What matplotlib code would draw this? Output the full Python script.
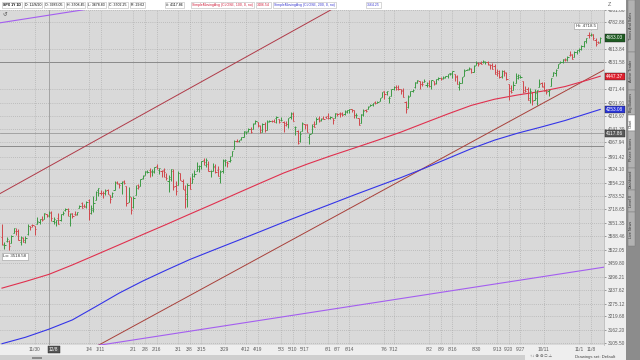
import matplotlib.pyplot as plt
from matplotlib.patches import Rectangle
from matplotlib.ticker import NullLocator, NullFormatter
import numpy as np
import pandas as pd

plt.rcParams['font.family'] = ['Liberation Sans', 'DejaVu Sans']

# SPX daily bars 11/9/20 .. 11/12/21
opens = [
    3583, 3543, 3563, 3563, 3552, 3600, 3611, 3612, 3560, 3579, 3567, 3595, 3635, 3639, 3634,
    3645, 3654, 3669, 3671, 3694, 3683, 3706, 3659, 3656, 3675, 3666, 3697, 3714, 3722, 3684, 3698, 3694, 3694, 3723, 3751, 3736, 3733,
    3764, 3698, 3713, 3764, 3815, 3803, 3802, 3802, 3814, 3788, 3782, 3817, 3857, 3845, 3852, 3863, 3836, 3755, 3778,
    3732, 3791, 3840, 3837, 3878, 3893, 3910, 3920, 3916, 3912, 3940, 3918, 3915, 3921, 3885, 3864, 3873, 3915, 3839,
    3842, 3903, 3864, 3818, 3793, 3844, 3851, 3891, 3915, 3925, 3943, 3974, 3949, 3954, 3913, 3917, 3938, 3920, 3880, 3913, 3970, 3963, 3968,
    3992, 4034, 4075, 4074, 4089, 4096, 4125, 4131, 4141, 4140, 4175, 4179, 4160, 4128, 4171, 4138, 4185, 4188, 4185, 4206, 4198,
    4192, 4180, 4177, 4170, 4210, 4229, 4152, 4130, 4074, 4130, 4170, 4169, 4098, 4122, 4168, 4170, 4205, 4191, 4202, 4210,
    4216, 4207, 4207, 4207, 4229, 4234, 4232, 4228, 4243, 4249, 4256, 4249, 4220, 4204, 4174, 4224, 4249, 4257, 4275, 4285, 4293, 4291,
    4301, 4326, 4357, 4351, 4321, 4330, 4373, 4382, 4381, 4369, 4368, 4297, 4266, 4331, 4361, 4381, 4409, 4416, 4403, 4412, 4395,
    4406, 4392, 4416, 4405, 4429, 4437, 4436, 4442, 4447, 4465, 4462, 4462, 4440, 4382, 4406, 4450, 4484, 4490, 4493, 4474, 4514, 4529,
    4528, 4535, 4532, 4536, 4518, 4514, 4506, 4474, 4479, 4447, 4477, 4469, 4403, 4375, 4367, 4406, 4438, 4442, 4420, 4363, 4370,
    4318, 4349, 4310, 4320, 4384, 4407, 4386, 4368, 4358, 4387, 4448, 4464, 4498, 4525, 4532, 4547, 4554, 4579, 4581, 4563, 4596,
    4610, 4614, 4631, 4663, 4700, 4702, 4707, 4670, 4660, 4656,
]
highs = [
    3646, 3557, 3582, 3569, 3593, 3628, 3624, 3619, 3585, 3582, 3589, 3643, 3636, 3644, 3634,
    3679, 3670, 3683, 3699, 3697, 3708, 3712, 3678, 3666, 3698, 3695, 3711, 3725, 3727, 3702, 3698, 3711, 3703, 3740, 3756, 3744, 3760,
    3770, 3738, 3783, 3811, 3826, 3818, 3811, 3820, 3823, 3789, 3805, 3860, 3862, 3853, 3860, 3870, 3837, 3831, 3778,
    3784, 3843, 3848, 3872, 3895, 3916, 3919, 3931, 3925, 3937, 3951, 3933, 3921, 3931, 3902, 3895, 3928, 3926, 3862,
    3914, 3906, 3875, 3843, 3851, 3882, 3904, 3918, 3961, 3944, 3970, 3982, 3984, 3969, 3919, 3956, 3950, 3943, 3919, 3979, 3981, 3969, 3994,
    4021, 4083, 4087, 4083, 4099, 4129, 4131, 4148, 4151, 4174, 4192, 4180, 4164, 4175, 4179, 4194, 4194, 4193, 4201, 4218, 4199,
    4210, 4187, 4187, 4202, 4238, 4237, 4162, 4135, 4131, 4184, 4172, 4170, 4116, 4172, 4189, 4209, 4214, 4203, 4213, 4218,
    4234, 4216, 4207, 4233, 4232, 4237, 4237, 4249, 4249, 4255, 4257, 4252, 4233, 4204, 4226, 4256, 4256, 4271, 4287, 4292, 4300, 4303,
    4321, 4355, 4359, 4362, 4331, 4372, 4387, 4393, 4394, 4369, 4376, 4300, 4337, 4359, 4369, 4415, 4423, 4416, 4416, 4430, 4412,
    4422, 4424, 4417, 4430, 4441, 4440, 4446, 4449, 4461, 4469, 4480, 4462, 4454, 4418, 4444, 4489, 4492, 4502, 4496, 4513, 4538, 4532,
    4538, 4545, 4541, 4537, 4521, 4529, 4521, 4492, 4486, 4486, 4486, 4472, 4403, 4394, 4417, 4466, 4463, 4457, 4420, 4387, 4383,
    4375, 4355, 4369, 4366, 4429, 4412, 4415, 4374, 4373, 4439, 4475, 4488, 4520, 4540, 4552, 4560, 4572, 4599, 4585, 4598, 4609,
    4621, 4636, 4664, 4684, 4718.5, 4714, 4708, 4685, 4664, 4689,
]
lows = [
    3543, 3524, 3557, 3518.58, 3552, 3600, 3594, 3567, 3544, 3556, 3553, 3592, 3617, 3630, 3594,
    3645, 3645, 3660, 3670, 3679, 3679, 3660, 3645, 3634, 3647, 3660, 3690, 3710, 3685, 3636, 3676, 3690, 3690, 3723, 3723, 3730, 3726,
    3663, 3696, 3706, 3764, 3783, 3790, 3777, 3792, 3793, 3749, 3780, 3817, 3845, 3826, 3797, 3847, 3733, 3755, 3694,
    3726, 3791, 3823, 3835, 3871, 3892, 3906, 3885, 3890, 3906, 3923, 3899, 3885, 3884, 3869, 3805, 3860, 3814, 3790,
    3842, 3867, 3819, 3723, 3730, 3819, 3851, 3885, 3915, 3907, 3924, 3949, 3935, 3914, 3885, 3917, 3902, 3886, 3853, 3906, 3940, 3936, 3965,
    3992, 4034, 4069, 4068, 4083, 4096, 4114, 4125, 4120, 4140, 4171, 4151, 4119, 4126, 4123, 4138, 4182, 4181, 4181, 4177, 4175,
    4188, 4128, 4160, 4147, 4201, 4188, 4111, 4057, 4068, 4130, 4143, 4128, 4062, 4122, 4152, 4170, 4179, 4187, 4197, 4203,
    4197, 4198, 4168, 4206, 4213, 4211, 4218, 4221, 4232, 4235, 4238, 4203, 4206, 4165, 4174, 4218, 4241, 4257, 4271, 4274, 4286, 4289,
    4301, 4326, 4315, 4336, 4290, 4330, 4366, 4368, 4365, 4341, 4323, 4233, 4259, 4329, 4351, 4378, 4406, 4372, 4387, 4412, 4386,
    4384, 4373, 4398, 4403, 4426, 4424, 4430, 4437, 4435, 4456, 4437, 4418, 4400, 4367, 4406, 4450, 4482, 4486, 4469, 4472, 4514, 4508,
    4522, 4527, 4522, 4518, 4493, 4493, 4458, 4447, 4435, 4439, 4448, 4427, 4305, 4347, 4367, 4406, 4430, 4437, 4347, 4352, 4306,
    4289, 4279, 4310, 4278, 4384, 4386, 4360, 4342, 4330, 4387, 4448, 4447, 4495, 4525, 4527, 4538, 4537, 4569, 4552, 4563, 4584,
    4595, 4604, 4624, 4651, 4682, 4694, 4670, 4630, 4648, 4648,
]
closes = [
    3550, 3546, 3573, 3537, 3585, 3627, 3610, 3568, 3582, 3558, 3578, 3635, 3630, 3638, 3622,
    3662, 3669, 3667, 3699, 3692, 3702, 3673, 3668, 3663, 3647, 3695, 3701, 3722, 3709, 3695, 3687, 3690, 3703, 3735, 3727, 3732, 3756,
    3701, 3727, 3748, 3804, 3825, 3800, 3801, 3810, 3796, 3768, 3799, 3852, 3853, 3841, 3855, 3850, 3751, 3787, 3714,
    3774, 3826, 3830, 3872, 3887, 3916, 3911, 3910, 3916, 3935, 3933, 3931, 3914, 3907, 3877, 3881, 3925, 3829, 3811,
    3902, 3870, 3820, 3768, 3842, 3821, 3875, 3899, 3939, 3943, 3969, 3963, 3974, 3915, 3913, 3941, 3911, 3889, 3910, 3975, 3971, 3959, 3973,
    4020, 4078, 4074, 4080, 4097, 4129, 4128, 4142, 4125, 4170, 4185, 4163, 4135, 4173, 4135, 4180, 4188, 4187, 4183, 4211, 4181,
    4193, 4165, 4168, 4202, 4233, 4188, 4152, 4063, 4113, 4174, 4163, 4128, 4116, 4159, 4156, 4197, 4188, 4196, 4201, 4204,
    4202, 4208, 4193, 4230, 4227, 4227, 4220, 4239, 4247, 4255, 4247, 4224, 4222, 4166, 4225, 4246, 4242, 4266, 4281, 4291, 4292, 4298,
    4320, 4352, 4344, 4358, 4321, 4370, 4385, 4369, 4374, 4360, 4327, 4258, 4323, 4359, 4367, 4412, 4422, 4401, 4401, 4419, 4395,
    4387, 4423, 4403, 4429, 4437, 4432, 4437, 4448, 4461, 4468, 4480, 4448, 4400, 4406, 4442, 4480, 4486, 4496, 4470, 4509, 4529, 4523,
    4524, 4537, 4535, 4520, 4514, 4493, 4459, 4469, 4443, 4481, 4474, 4433, 4358, 4354, 4396, 4449, 4455, 4443, 4353, 4359, 4308,
    4357, 4300, 4346, 4364, 4400, 4391, 4361, 4351, 4364, 4438, 4471, 4486, 4520, 4536, 4550, 4545, 4566, 4575, 4552, 4596, 4605,
    4614, 4631, 4661, 4680, 4698, 4702, 4685, 4647, 4649, 4683.03,
]
holidays = ['2020-11-26', '2020-12-25', '2021-01-01', '2021-01-18', '2021-02-15',
            '2021-04-02', '2021-05-31', '2021-07-05', '2021-09-06']

# moving averages sampled every 10 bars (last = final bar)
sma100 = [3344, 3374, 3406.54, 3450, 3497, 3545, 3594, 3643, 3694, 3745, 3798, 3851, 3904, 3951,
          3995, 4037, 4080, 4125, 4176, 4227, 4276, 4312, 4337, 4358, 4386, 4426, 4447.37]
sma200 = [3103, 3130, 3164.25, 3204, 3262, 3322, 3376, 3426, 3475, 3519, 3563, 3608, 3654, 3699,
          3744, 3790, 3835, 3880, 3929, 3981, 4034, 4081, 4120, 4154, 4190, 4232, 4253.08]

# drawn lines: (bar index, price) end points
channel_top = ([-2, 150], [3790, 4947])
channel_bottom = ([41, 258], [3096, 4496])
violet_top = ([-2, 80], [4776, 4973])
violet_bottom = ([41, 258], [3096, 3442])
levels = [4531.58, 4048]
cursor_bar = 20
cursor_price = 4117.86

price_labels = ['4861.86', '4782.86', '4613.84', '4531.58', '4371.44', '4291.91', '4216.97',
                '4141.39', '4067.94', '3991.42', '3924.10', '3854.23', '3783.52', '3718.65',
                '3651.35', '3588.46', '3522.05', '3459.80', '3396.21', '3337.62', '3275.12',
                '3219.68', '3162.20', '3105.50']
date_ticks = ['2020-11-30', '2021-01-04', '2021-01-11', '2021-02-01', '2021-02-08', '2021-02-16',
              '2021-03-01', '2021-03-08', '2021-03-15', '2021-03-29', '2021-04-12', '2021-04-19',
              '2021-05-03', '2021-05-10', '2021-05-17', '2021-06-01', '2021-06-07', '2021-06-14',
              '2021-07-06', '2021-07-12', '2021-08-02', '2021-08-09', '2021-08-16', '2021-08-30',
              '2021-09-13', '2021-09-20', '2021-09-27', '2021-10-11', '2021-11-01', '2021-11-08']

header = [('SPX 1Y 1D', 'black'), ('D: 12/8/20', 'black'), ('O: 3683.05', 'black'),
          ('H: 3708.45', 'black'), ('L: 3678.83', 'black'), ('C: 3702.25', 'black'),
          ('R: 29.62', 'black'), ('#: 4117.86', 'black'),
          ('SimpleMovingAvg (CLOSE, 100, 0, no)', '#d0203c'), ('3406.54', '#d0203c'),
          ('SimpleMovingAvg (CLOSE, 200, 0, no)', '#3a3ad0'), ('3164.25', '#3a3ad0')]
tabs = ['Times And Sales', 'Active Trader', 'Big Buttons', 'Chart',
        'Phase Scores', 'Dashboard', 'Level II', 'Live News']

dates = pd.bdate_range('2020-11-09', '2021-11-12')
dates = dates[~dates.isin(pd.to_datetime(holidays))]

n = min(len(opens), len(highs), len(lows), len(closes))
o = np.array(opens[:n], float)
h = np.array(highs[:n], float)
l = np.array(lows[:n], float)
c = np.array(closes[:n], float)
idx = np.arange(n)
sma_idx = list(range(0, 251, 10)) + [n - 1]

fx = lambda x: x / 640
fy = lambda y: 1 - y / 360

fig = plt.figure(figsize=(6.4, 3.6), dpi=100, facecolor='#eeeeee')
ax = fig.add_axes([0, fy(345), fx(604), 335 / 360])
ax.set_facecolor('#d9d9d9')
ax.set_yscale('log')
ax.set_xlim(-0.85, n + 0.6)
ax.set_ylim(3097.6, 4861.86)

# grid
yt = [float(s) for s in price_labels]
ax.set_yticks(yt, price_labels)
ax.yaxis.set_minor_locator(NullLocator())
ax.yaxis.set_minor_formatter(NullFormatter())
tick_pos = dates.get_indexer(pd.to_datetime(date_ticks))
ax.set_xticks(tick_pos, [f'{d.month}/{d.day}' for d in pd.to_datetime(date_ticks)])
ax.grid(True, color='#a2a2a2', ls=(0, (1, 2)), lw=0.5)
ax.set_axisbelow(True)
ax.yaxis.tick_right()
ax.tick_params(axis='y', labelsize=3.4, colors='#5a5a5a', length=1.5, width=0.4, pad=1.5)
ax.tick_params(axis='x', labelsize=3.4, colors='#5a5a5a', length=0, pad=1.5)
for s in ['top', 'left', 'bottom']:
    ax.spines[s].set_visible(False)
ax.spines['right'].set_color('#b0b0b0')
ax.spines['right'].set_linewidth(0.5)

# horizontal levels and crosshair
for lv in levels:
    ax.axhline(lv, color='#8a8a8a', lw=0.7, zorder=1)
ax.axhline(cursor_price, color='#9a9a9a', lw=0.6, zorder=1)
ax.axvline(cursor_bar, color='#9a9a9a', lw=0.6, zorder=1)

# drawn lines
ax.plot(*channel_top, color='#b03a48', lw=0.7)
ax.plot(*channel_bottom, color='#a8403a', lw=0.7)
ax.plot(*violet_top, color='#a45ef0', lw=0.8)
ax.plot(*violet_bottom, color='#a45ef0', lw=0.8)

# moving averages
ax.plot(sma_idx, sma100, color='#e0304e', lw=0.8)
ax.plot(sma_idx, sma200, color='#3434e8', lw=0.8)

# OHLC bars
col = np.where(c >= o, '#3d9a45', '#d0484c')
ax.vlines(idx, l, h, colors=col, lw=0.7, zorder=3)
ax.hlines(o, idx - 0.5, idx, colors=col, lw=0.7, zorder=3)
ax.hlines(c, idx, idx + 0.5, colors=col, lw=0.7, zorder=3)

# hi / lo markers
imax, imin = int(np.argmax(h)), int(np.argmin(l))
ax.annotate(f'Hi: {h[imax]:g}', (imax, h[imax]), xytext=(-2, 3), textcoords='offset points',
            ha='center', va='bottom', fontsize=3.2, color='#333',
            bbox=dict(boxstyle='square,pad=0.3', fc='white', ec='#999', lw=0.4))
ax.annotate(f'Lo: {l[imin]:.2f}', (imin, l[imin]), xytext=(-4, -3), textcoords='offset points',
            ha='left', va='top', fontsize=3.2, color='#333',
            bbox=dict(boxstyle='square,pad=0.3', fc='white', ec='#999', lw=0.4))

# price bubbles on the axis
bubbles = [(c[-1], '#1e5c22'), (sma100[-1], '#e0202e'), (sma200[-1], '#2b36d8'), (cursor_price, '#5a5a5a')]
for val, fc in bubbles:
    ax.text(1.004, val, f'{val:.2f}', transform=ax.get_yaxis_transform(), ha='left', va='center',
            fontsize=3.4, color='white', clip_on=False, zorder=6,
            bbox=dict(boxstyle='square,pad=0.25', fc=fc, ec='#222', lw=0.3))
ax.text(cursor_bar, -0.013, dates[cursor_bar].strftime('%-m/%-d'), transform=ax.get_xaxis_transform(),
        ha='left', va='center', fontsize=3.4, color='white', clip_on=False, zorder=6,
        bbox=dict(boxstyle='square,pad=0.25', fc='#555', ec='#222', lw=0.3))

# header strip, boxes laid out left to right without overlap
fig.add_artist(Rectangle((0, fy(9.5)), 1, 9.5 / 360, transform=fig.transFigure, fc='white', ec='none'))
hx = [1, 19, 37, 60, 83, 105, 128, 166, 192, 252, 272, 367]
renderer = fig.canvas.get_renderer()
right = 0
for (txt, tc), x in zip(header, hx):
    x = max(x, right + 3)
    t = fig.text(fx(x), fy(4.8), txt, fontsize=2.5, color=tc, ha='left', va='center',
                 weight='bold' if txt.startswith('SPX') else 'normal',
                 bbox=dict(boxstyle='square,pad=0.3', fc='white', ec='#b8b8b8', lw=0.4))
    right = t.get_window_extent(renderer).x1 + 1
fig.text(fx(610), fy(5), 'Z', fontsize=4, color='#666', ha='center', va='center')
fig.text(fx(5), fy(13.5), '\u21ba', fontsize=4, color='#555', ha='center', va='center')

# bottom strip
fig.add_artist(Rectangle((0, 0), fx(525), 5 / 360, transform=fig.transFigure, fc='#cfcfcf', ec='none'))
fig.add_artist(Rectangle((fx(32), fy(359)), fx(10), 2 / 360, transform=fig.transFigure, fc='#8a8a8a', ec='none'))
fig.text(fx(530), fy(356.6), '\u2191\u2193 \u2295 \u2296 \u25a1 \u26a0', fontsize=3.1, color='#444', va='center')
fig.text(fx(575), fy(356.6), 'Drawings set: Default', fontsize=3.1, color='#444', va='center')

# side tabs
fig.add_artist(Rectangle((fx(626), 0), fx(14), 1, transform=fig.transFigure, fc='#8c8c8c', ec='none'))
tab_edges = [0, 52, 90, 115, 131, 168, 190, 212, 246]
for i, name in enumerate(tabs):
    y0, y1 = tab_edges[i], tab_edges[i + 1]
    fc = 'white' if name == 'Chart' else '#b2b2b2'
    fig.add_artist(Rectangle((fx(627.5), fy(y1)), fx(7), (y1 - y0) / 360, transform=fig.transFigure,
                             fc=fc, ec='#777', lw=0.3))
    fig.text(fx(631), fy((y0 + y1) / 2), name, rotation=90, fontsize=2.7, color='#333',
             ha='center', va='center')

fig.savefig('out.png', dpi=100, facecolor=fig.get_facecolor())
